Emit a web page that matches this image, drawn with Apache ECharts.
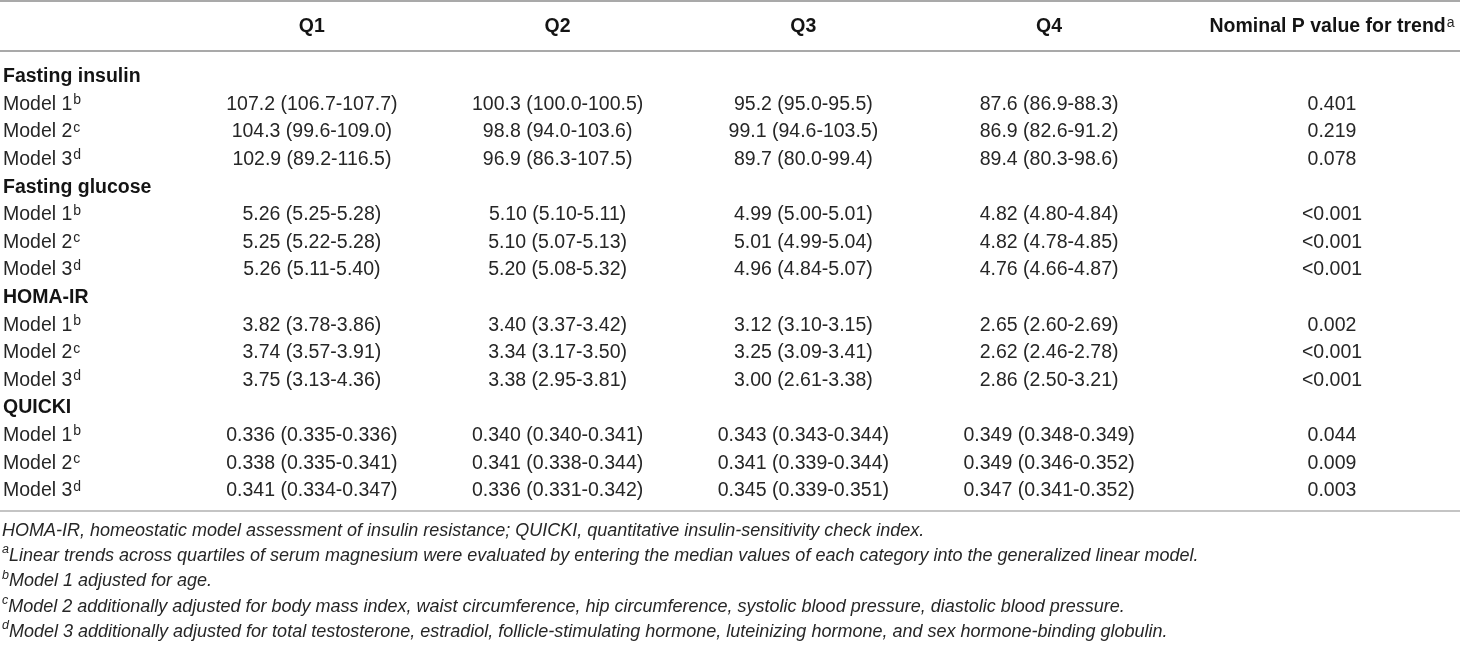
<!DOCTYPE html>
<html>
<head>
<meta charset="utf-8">
<script src="https://cdn.jsdelivr.net/npm/echarts@6/dist/echarts.min.js"></script>
<style>
html,body{margin:0;padding:0;background:#fff;}
#chart{width:1460px;height:647px;}
</style>
</head>
<body>
<div id="chart"></div>
<script>
// ---------- DATA ----------
const quartiles = ['Q1', 'Q2', 'Q3', 'Q4'];
const trendHeader = 'Nominal P value for trend';
const trendHeaderNote = 'a';
const groups = ['Fasting insulin', 'Fasting glucose', 'HOMA-IR', 'QUICKI'];
const models = ['Model 1', 'Model 2', 'Model 3'];
const modelNotes = ['b', 'c', 'd'];

const q1 = [
  '107.2 (106.7-107.7)', '104.3 (99.6-109.0)', '102.9 (89.2-116.5)',
  '5.26 (5.25-5.28)', '5.25 (5.22-5.28)', '5.26 (5.11-5.40)',
  '3.82 (3.78-3.86)', '3.74 (3.57-3.91)', '3.75 (3.13-4.36)',
  '0.336 (0.335-0.336)', '0.338 (0.335-0.341)', '0.341 (0.334-0.347)'
];
const q2 = [
  '100.3 (100.0-100.5)', '98.8 (94.0-103.6)', '96.9 (86.3-107.5)',
  '5.10 (5.10-5.11)', '5.10 (5.07-5.13)', '5.20 (5.08-5.32)',
  '3.40 (3.37-3.42)', '3.34 (3.17-3.50)', '3.38 (2.95-3.81)',
  '0.340 (0.340-0.341)', '0.341 (0.338-0.344)', '0.336 (0.331-0.342)'
];
const q3 = [
  '95.2 (95.0-95.5)', '99.1 (94.6-103.5)', '89.7 (80.0-99.4)',
  '4.99 (5.00-5.01)', '5.01 (4.99-5.04)', '4.96 (4.84-5.07)',
  '3.12 (3.10-3.15)', '3.25 (3.09-3.41)', '3.00 (2.61-3.38)',
  '0.343 (0.343-0.344)', '0.341 (0.339-0.344)', '0.345 (0.339-0.351)'
];
const q4 = [
  '87.6 (86.9-88.3)', '86.9 (82.6-91.2)', '89.4 (80.3-98.6)',
  '4.82 (4.80-4.84)', '4.82 (4.78-4.85)', '4.76 (4.66-4.87)',
  '2.65 (2.60-2.69)', '2.62 (2.46-2.78)', '2.86 (2.50-3.21)',
  '0.349 (0.348-0.349)', '0.349 (0.346-0.352)', '0.347 (0.341-0.352)'
];
const pTrend = [
  '0.401', '0.219', '0.078',
  '<0.001', '<0.001', '<0.001',
  '0.002', '<0.001', '<0.001',
  '0.044', '0.009', '0.003'
];

const footnoteMarks = ['', 'a', 'b', 'c', 'd'];
const footnoteTexts = [
  'HOMA-IR, homeostatic model assessment of insulin resistance; QUICKI, quantitative insulin-sensitivity check index.',
  'Linear trends across quartiles of serum magnesium were evaluated by entering the median values of each category into the generalized linear model.',
  'Model 1 adjusted for age.',
  'Model 2 additionally adjusted for body mass index, waist circumference, hip circumference, systolic blood pressure, diastolic blood pressure.',
  'Model 3 additionally adjusted for total testosterone, estradiol, follicle-stimulating hormone, luteinizing hormone, and sex hormone-binding globulin.'
];

// ---------- BUILD ----------
const FONT = '"Liberation Sans", Arial, Helvetica, sans-serif';
const BODY_SIZE = 19.5;
const TEXT_COLOR = '#262626';
const HEAD_COLOR = '#141414';

const rows = [];
const rowKeys = [];
const valueRow = [];
groups.forEach((g) => {
  rows.push({ kind: 'group', text: g });
  rowKeys.push(g);
  models.forEach((m, mi) => {
    rows.push({ kind: 'model', text: m, note: modelNotes[mi] });
    rowKeys.push(g + '|' + m);
    valueRow.push(rows.length - 1);
  });
});

const qColumns = [q1, q2, q3, q4];
const qData = [];
const qTexts = [];
qColumns.forEach((col, ci) => {
  col.forEach((t, k) => {
    qData.push([ci, valueRow[k]]);
    qTexts.push(t);
  });
});
const pData = pTrend.map((t, k) => [0, valueRow[k]]);

function cellRenderer(texts) {
  return function (params, api) {
    const p = api.coord([api.value(0), api.value(1)]);
    return {
      type: 'text',
      x: p[0],
      y: p[1],
      style: {
        text: texts[params.dataIndex],
        align: 'center',
        verticalAlign: 'middle',
        fontSize: BODY_SIZE,
        fontFamily: FONT,
        fontWeight: 'normal',
        fill: TEXT_COLOR
      }
    };
  };
}

const supStyle = {
  fontSize: 14, fontFamily: FONT, fontWeight: 'normal', color: TEXT_COLOR,
  verticalAlign: 'top', lineHeight: 14, padding: [0, 0, 0, 1]
};

const footText = footnoteTexts.map((t, i) =>
  (footnoteMarks[i] ? '{s|' + footnoteMarks[i] + '}' : '') + '{n|' + t + '}'
).join('\n');

const GRID_TOP = 63;
const ROW_H = 27.6;
const GRID_H = ROW_H * rows.length;

const option = {
  backgroundColor: '#fff',
  animation: false,
  title: {
    left: 2,
    top: 518,
    padding: 0,
    text: footText,
    textStyle: {
      fontWeight: 'normal',
      fontSize: 18,
      rich: {
        n: { fontSize: 18, fontStyle: 'italic', fontWeight: 'normal', fontFamily: FONT, color: TEXT_COLOR, lineHeight: 25.3 },
        s: { fontSize: 12.5, fontStyle: 'italic', fontWeight: 'normal', fontFamily: FONT, color: TEXT_COLOR, verticalAlign: 'top', lineHeight: 15 }
      }
    }
  },
  grid: [
    { left: 188, width: 984, top: GRID_TOP, height: GRID_H },
    { left: 1204, width: 256, top: GRID_TOP, height: GRID_H }
  ],
  xAxis: [
    {
      type: 'category', gridIndex: 0, position: 'top', data: quartiles,
      axisLine: { show: false }, axisTick: { show: false }, splitLine: { show: false },
      axisLabel: {
        interval: 0, margin: 36, verticalAlign: 'middle',
        fontSize: BODY_SIZE, fontWeight: 'bold', fontFamily: FONT, color: HEAD_COLOR
      }
    },
    {
      type: 'category', gridIndex: 1, position: 'top', data: [trendHeader],
      axisLine: { show: false }, axisTick: { show: false }, splitLine: { show: false },
      axisLabel: {
        interval: 0, margin: 36, verticalAlign: 'middle',
        formatter: () => '{h|' + trendHeader + '}{s|' + trendHeaderNote + '}',
        rich: {
          h: { fontSize: BODY_SIZE, fontWeight: 'bold', fontFamily: FONT, color: HEAD_COLOR, lineHeight: 22 },
          s: supStyle
        }
      }
    }
  ],
  yAxis: [
    {
      type: 'category', gridIndex: 0, inverse: true, data: rowKeys,
      axisLine: { show: false }, axisTick: { show: false }, splitLine: { show: false },
      axisLabel: {
        interval: 0, align: 'left', margin: 186,
        formatter: (v, i) => {
          const r = rows[i];
          return r.kind === 'group' ? '{g|' + r.text + '}' : '{m|' + r.text + '}{s|' + r.note + '}';
        },
        rich: {
          g: { fontSize: BODY_SIZE, fontWeight: 'bold', fontFamily: FONT, color: HEAD_COLOR, lineHeight: 22 },
          m: { fontSize: BODY_SIZE, fontWeight: 'normal', fontFamily: FONT, color: TEXT_COLOR, lineHeight: 22 },
          s: supStyle
        }
      }
    },
    {
      type: 'category', gridIndex: 1, inverse: true, data: rowKeys,
      axisLine: { show: false }, axisTick: { show: false }, splitLine: { show: false },
      axisLabel: { show: false }
    }
  ],
  graphic: [
    { type: 'line', shape: { x1: 0, y1: 1, x2: 1460, y2: 1 }, style: { stroke: '#8c8c8c', lineWidth: 1.5 } },
    { type: 'line', shape: { x1: 0, y1: 51, x2: 1460, y2: 51 }, style: { stroke: '#8c8c8c', lineWidth: 1.5 } },
    { type: 'line', shape: { x1: 0, y1: 511, x2: 1460, y2: 511 }, style: { stroke: '#c4c4c4', lineWidth: 2 } }
  ],
  series: [
    { type: 'custom', xAxisIndex: 0, yAxisIndex: 0, data: qData, renderItem: cellRenderer(qTexts), silent: true },
    { type: 'custom', xAxisIndex: 1, yAxisIndex: 1, data: pData, renderItem: cellRenderer(pTrend), silent: true }
  ]
};

const chart = echarts.init(document.getElementById('chart'), null, { renderer: 'canvas' });
chart.setOption(option);
</script>
</body>
</html>
